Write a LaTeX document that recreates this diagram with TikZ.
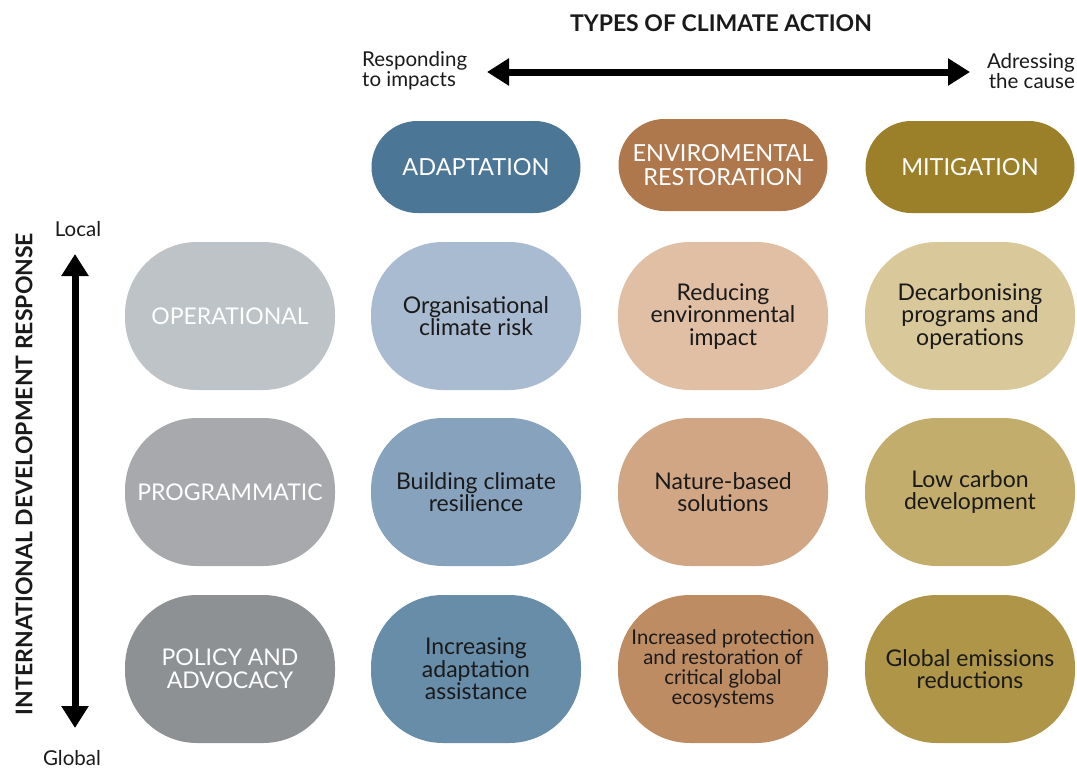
\documentclass[tikz,border=0pt]{standalone}
\usepackage{fontspec}
\setmainfont{Lato}
\usetikzlibrary{arrows.meta}

% fills of the header pills
\definecolor{adaptH}{HTML}{4C7696}
\definecolor{restH}{HTML}{AE774C}
\definecolor{mitH}{HTML}{9B8029}
% row labels
\definecolor{opG}{HTML}{BDC3C7}
\definecolor{progG}{HTML}{A7A9AC}
\definecolor{polG}{HTML}{8E9194}
% adaptation column
\definecolor{adA}{HTML}{A9BBD1}
\definecolor{adB}{HTML}{87A2BC}
\definecolor{adC}{HTML}{688DA9}
% restoration column
\definecolor{reA}{HTML}{E0BFA4}
\definecolor{reB}{HTML}{D0A684}
\definecolor{reC}{HTML}{BE8C63}
% mitigation column
\definecolor{miA}{HTML}{D9C899}
\definecolor{miB}{HTML}{C3AD6D}
\definecolor{miC}{HTML}{AE9548}
\definecolor{ink}{HTML}{1A1A1A}

\tikzset{
  pill/.style={rounded corners=46pt, minimum width=209pt, minimum height=92pt,
    inner sep=0pt, align=center, text=white,
    font=\fontsize{23.5}{23.5}\selectfont},
  cell/.style={rounded corners=72pt, minimum width=210pt, minimum height=148pt,
    inner sep=0pt, align=center, text=ink,
    font=\fontsize{23}{22.5}\selectfont},
  rowlab/.style={cell, text=white},
  axis/.style={line width=7pt,
    {Triangle[width=26pt,length=22pt]}-{Triangle[width=26pt,length=22pt]}},
  small/.style={font=\fontsize{20.5}{18.5}\selectfont, text=ink, inner sep=0pt}
}

\begin{document}
\begin{tikzpicture}[x=1pt,y=-1pt]
\useasboundingbox (0,0) rectangle (1077,771);

% horizontal axis
\node[font=\bfseries\fontsize{23}{26}\selectfont, text=ink] (title) at (721,23) {TYPES OF CLIMATE ACTION};
\node[small, align=left, anchor=west] (resp) at (362,71) {Responding\\to impacts};
\node[small, align=right, anchor=east] (addr) at (1075,71) {Adressing\\the cause};
\coordinate (hl) at (487,72);
\coordinate (hr) at (970,72);
\draw[axis] (hl) -- (hr);

% vertical axis
\node[small] (local) at (78,229) {Local};
\node[small] (global) at (72,758) {Global};
\coordinate (vt) at (75,254);
\coordinate (vb) at (75,728);
\draw[axis] (vt) -- (vb);
\node[rotate=90, font=\bfseries\fontsize{23}{26}\selectfont, text=ink] (idr) at (24,474)
  {INTERNATIONAL DEVELOPMENT RESPONSE};

% column headers
\node[pill, fill=adaptH] (hA) at (476,167) {ADAPTATION};
\node[pill, fill=restH] (hR) at (723,165) {ENVIROMENTAL\\RESTORATION};
\node[pill, fill=mitH] (hM) at (970,167) {MITIGATION};

% row labels
\node[rowlab, fill=opG] (rO) at (230,316) {OPERATIONAL};
\node[rowlab, fill=progG] (rP) at (230,492) {PROGRAMMATIC};
\node[rowlab, fill=polG] (rL) at (230,669) {POLICY AND\\ADVOCACY};

% adaptation cells
\node[cell, fill=adA] (a1) at (476,316) {Organisational\\climate risk};
\node[cell, fill=adB] (a2) at (476,492) {Building climate\\resilience};
\node[cell, fill=adC] (a3) at (476,669) {Increasing\\adaptation\\assistance};

% restoration cells
\node[cell, fill=reA] (r1) at (723,316) {Reducing\\environmental\\impact};
\node[cell, fill=reB] (r2) at (723,492) {Nature-based\\solutions};
\node[cell, fill=reC, font=\fontsize{20.3}{20}\selectfont] (r3) at (723,669)
  {Increased protection\\and restoration of\\critical global\\ecosystems};

% mitigation cells
\node[cell, fill=miA] (m1) at (970,316) {Decarbonising\\programs and\\operations};
\node[cell, fill=miB] (m2) at (970,492) {Low carbon\\development};
\node[cell, fill=miC] (m3) at (970,669) {Global emissions\\reductions};
\end{tikzpicture}
\end{document}
